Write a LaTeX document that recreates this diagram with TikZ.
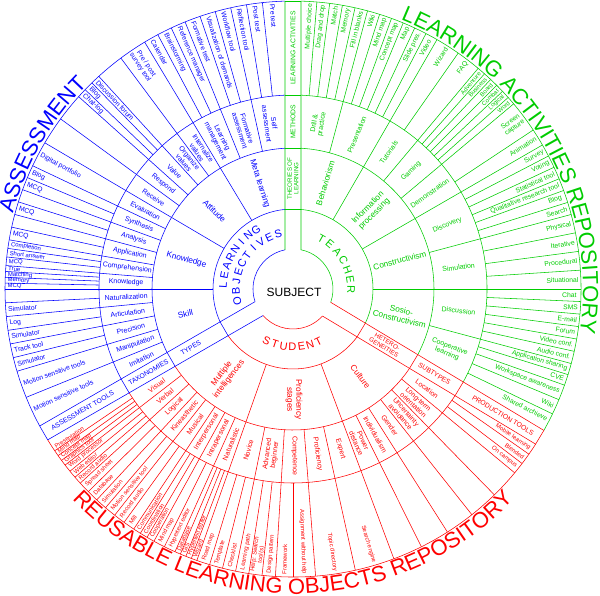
\documentclass[tikz,border=0pt]{standalone}
\usepackage{fontspec}
\setmainfont{Liberation Sans}
\usetikzlibrary{decorations.text}
\definecolor{cb}{RGB}{0,0,255}
\definecolor{cg}{RGB}{0,204,0}
\definecolor{cr}{RGB}{255,0,0}
\newcounter{nd}
\def\RZ{40}\def\RA{80}\def\RB{141}\def\RC{194}\def\RD{288}\def\HW{8}
\def\ROUT{286}\def\RCAT{110.5}\def\RSUB{167}
\newcommand\ctext[4]{%
  \stepcounter{nd}%
  \pgfmathsetmacro\mytc{cos(#2)}%
  \ifdim\mytc pt<-0.0001pt\relax
    \node[#1,rotate={#2+180}] (n\arabic{nd}) at (#2:#3) {#4};%
  \else
    \node[#1,rotate={#2}] (n\arabic{nd}) at (#2:#3) {#4};%
  \fi}
\newcommand\otext[3]{%
  \stepcounter{nd}%
  \pgfmathsetmacro\mytc{cos(#2)}%
  \ifdim\mytc pt<-0.0001pt\relax
    \node[#1,anchor=west,rotate={#2+180}] (n\arabic{nd}) at (#2:\ROUT) {#3};%
  \else
    \node[#1,anchor=east,rotate={#2}] (n\arabic{nd}) at (#2:\ROUT) {#3};%
  \fi}
\newcommand\sarc[4]{\draw[#1] ({#3+asin(\HW/#2)}:#2) arc[start angle={#3+asin(\HW/#2)}, end angle={#4-asin(\HW/#2)}, radius=#2];}
\newcommand\stripband[2]{%
  \draw[#1] ({#2+asin(\HW/\RZ)}:\RZ) -- ({#2+asin(\HW/\RD)}:\RD);
  \draw[#1] ({#2-asin(\HW/\RZ)}:\RZ) -- ({#2-asin(\HW/\RD)}:\RD);
  \foreach \rr in {\RA,\RB,\RC,\RD} \draw[#1] ({#2-asin(\HW/\rr)}:\rr) -- ({#2+asin(\HW/\rr)}:\rr);}
\newcommand\rays[4]{\foreach \ang in {#4} \draw[#1] (\ang:#2) -- (\ang:#3);}
\newcommand\spaced[6]{%
  \foreach \ch [count=\i from 0] in {#6} {%
    \stepcounter{nd}%
    \node[#1,rotate={#3+(\i)*(#4)+(#5)}] (n\arabic{nd}) at ({#3+(\i)*(#4)}:#2) {\ch};}}
\tikzset{
  bl/.style={draw=cb,line width=0.55pt},
  gl/.style={draw=cg,line width=0.55pt},
  rl/.style={draw=cr,line width=0.55pt},
  lab/.style={inner sep=0.3pt,align=center},
  cat/.style={lab,font=\fontsize{8.3}{9}\selectfont},
  sub/.style={lab,font=\fontsize{7}{7.5}\selectfont},
  outer/.style={lab,font=\fontsize{6.8}{7.2}\selectfont},
  thin/.style={lab,font=\fontsize{6}{6.3}\selectfont},
  striplab/.style={lab,font=\fontsize{6.8}{7.2}\selectfont},
  big/.style={font=\fontsize{11}{11}\selectfont,inner sep=0pt}
}
\begin{document}
\begin{tikzpicture}[x=1pt,y=1pt]
\useasboundingbox (-293,-307) rectangle (307,289);
% ---------- arcs ----------
\foreach \r in {\RZ,\RA,\RB,\RC,\RD} {
  \sarc{bl}{\r}{90}{210}
  \sarc{gl}{\r}{-31}{90}
  \sarc{rl}{\r}{210}{329}
}
% ---------- strips ----------
\stripband{gl}{90}
\stripband{bl}{210}
\stripband{rl}{329}
% ---------- blue rays ----------
\rays{bl}{\RA}{\RB}{121,149.5,180}
\rays{bl}{\RB}{\RC}{102.5,112,121,126.7,132.4,138.1,143.8,149.5,154.67,159.83,165,170.17,175.33,180,185.5,191,196.6,202.1}
\rays{bl}{\RC}{\RD}{96.1,99.3,102.5,105.67,108.83,112,115,118,121,126.7,132.4,134.3,136.2,138.1,143.8,149.5,154.67,157.25,159.83,162.4,165,167.6,170.17,171.89,173.61,175.33,176.5,177.67,178.83,180,182.75,185.5,188.25,191,193.8,196.6,202.1}
% ---------- green rays ----------
\rays{gl}{\RA}{\RB}{60,30,0}
\rays{gl}{\RB}{\RC}{75,60,50,40,30,15,0,-15}
\rays{gl}{\RC}{\RD}{85.24,82.68,80.12,77.56,75,72.5,70,67.5,65,62.5,60,55,50,48.33,46.67,45,43.33,41.67,40,33.5,30,27.5,25,22.5,20,17.5,15,11.25,7.5,3.75,0,-2.5,-5,-7.5,-10,-12.5,-15,-17.3,-19.5,-22.6,-25.7}
% ---------- red rays ----------
\rays{rl}{\RA}{\RB}{250.5,290.5}
\rays{rl}{\RB}{\RC}{217.69,222.38,227.06,231.75,236.44,241.13,245.81,250.5,258.5,266.5,274.5,282.5,290.5,296.47,302.43,308.4,314.37,320.33}
\rays{rl}{\RC}{\RD}{214.17,215.35,216.52,217.69,219.25,220.81,222.38,224.72,227.06,229.4,231.75,234.1,236.44,238,239.56,241.13,243.47,245.81,246.98,248.16,249.33,250.5,253.17,255.83,258.5,261.17,263.83,266.5,270,274.5,282.5,290.5,296.47,302.43,308.4,314.37,320.33,322.7,325}
% ---------- centre ----------
\node[font=\fontsize{12}{12}\selectfont,inner sep=0pt] (subj) at (1,-3) {SUBJECT};
\spaced{big,text=cb}{70}{176.6}{-7.8}{-90}{L,E,A,R,N,I,N,G}
\spaced{big,text=cb}{57}{192}{-9.667}{-90}{O,B,J,E,C,T,I,V,E,S}
\spaced{big,text=cg}{58}{60.8}{-10.3}{-90}{T,E,A,C,H,E,R}
\spaced{big,text=cr}{58}{243}{8.83}{90}{S,T,U,D,E,N,T}
% ---------- strip labels ----------
\ctext{striplab,text=cg,font=\fontsize{6.2}{6.7}\selectfont}{90}{\RCAT}{THEORIES OF\\LEARNING}
\ctext{striplab,text=cg}{90}{\RSUB}{METHODS}
\ctext{striplab,text=cg}{90}{241}{LEARNING ACTIVITIES}
\ctext{striplab,text=cb}{210}{118}{TYPES}
\ctext{striplab,text=cb}{210}{167}{TAXONOMIES}
\ctext{striplab,text=cb}{210}{243}{ASSESSMENT TOOLS}
\ctext{striplab,text=cr,font=\fontsize{6.2}{6.7}\selectfont}{329}{108}{HETERO-\\GENEITIES}
\ctext{striplab,text=cr}{329}{165}{SUBTYPES}
\ctext{striplab,text=cr}{329}{245}{PRODUCTION TOOLS}
% ---------- blue texts ----------
\foreach \ang/\txt in {107.5/Meta learning,135.25/Attitude,164.75/Knowledge,193/Skill}
  {\ctext{cat,text=cb}{\ang}{\RCAT}{\txt}}
\foreach \ang/\txt in {97.75/{Self\\assessment},107.25/{Formative\\assessment},116.5/{Learning\\management},123.85/{Internalize\\values},129.55/{Organize\\values},135.25/Value,140.95/Respond,146.65/Receive,152.1/Evaluation,157.25/Synthesis,162.4/Analysis,167.6/Application,172.75/Comprehension,177.7/Knowledge,182.75/Naturalization,188.25/Articulation,193.8/Precision,199.35/Manipulation,204.85/Imitation}
  {\ctext{sub,text=cb}{\ang}{\RSUB}{\txt}}
\foreach \ang/\txt in {94.2/Pre test,97.7/Post test,100.9/Reflection tool,104.1/Workflow tool,107.25/Visualization of demands,110.4/Formative test,113.5/Reference manager,116.5/Brainstorming,119.5/Calendar,123.85/{Pre / post\\survey tool},133.35/Discussion forum,135.25/Blog,137.15/Chat-log,152.1/Digital portfolio,155.96/Blog,158.54/MCQ,163.7/MCQ,168.9/MCQ,184.1/Simulator,186.9/Log,189.6/Simulator,192.4/Track tool,195.2/Simulator,199.35/Motion sensitive tools,204.85/Motion sensitive tools}
  {\otext{outer,text=cb}{\ang}{\txt}}
\foreach \ang/\txt in {171.03/Completion,172.75/Short answer,174.47/MCQ,175.9/True / false,177.08/Matching,178.25/Memory,179.42/MCQ}
  {\otext{thin,text=cb}{\ang}{\txt}}
% ---------- green texts ----------
\foreach \ang/\txt in {73/Behaviorism,45/{Information\\processing},15/Constructivism,-13.4/{Sosio-\\Constructivism}}
  {\ctext{cat,text=cg}{\ang}{\RCAT}{\txt}}
\foreach \ang/\txt in {81.3/{Drill \&\\practice},67.5/Presentation,55/Tutorials,45/Gaming,35/Demonstration,22.5/Discovery,7.5/Simulation,-7.5/Discussion,-21.5/{Cooperative\\learning}}
  {\ctext{sub,text=cg}{\ang}{\RSUB}{\txt}}
\foreach \ang/\txt in {86.5/Multiple choice,83.96/Drag and drop,81.4/Match,78.84/Memory,76.28/Fill in blanks,73.75/Wiki,71.25/Mind map,68.75/Concept map,66.25/Map,63.75/Slide pres.,61.25/Video / audio rec.,57.5/Wizard,52.5/FAQ,36.75/{Screen\\capture},31.75/Animation,28.75/Survey,26.25/Voting,23.75/Statistical tool,21.25/Qualitative research tool,18.75/Blog / journal,16.25/Search,13.125/Physical,9.375/Iterative,5.625/Procedural,1.875/Situational,-1.25/Chat / IM,-3.75/SMS,-6.25/E-mail,-8.75/Forum,-11.25/Video conf.,-13.75/Audio conf.,-16.15/Application sharing,-18.4/CVE,-21.05/Workspace awareness,-24.15/Wiki,-27.1/Shared archieve}
  {\otext{outer,text=cg}{\ang}{\txt}}
\foreach \ang/\txt in {49.17/Adventure,47.5/Business,45.83/Board,44.17/Combat,42.5/Logical,40.83/Word}
  {\otext{thin,text=cg}{\ang}{\txt}}
% ---------- red texts ----------
\foreach \ang/\txt in {232.3/{Multiple\\intelligences},270.5/{Proficiency\\stages},307.6/Culture}
  {\ctext{cat,text=cr}{\ang}{\RCAT}{\txt}}
\foreach \ang/\txt in {215.3/Visual,220/Verbal,224.7/Logical,229.4/Kineasthetic,234.1/Musical,238.8/Interpersonal,243.5/Intrapersonal,248.2/Naturalistic,254.5/Novice,262.5/{Advanced\\beginner},270.5/Competence,278.5/Proficiency,286.5/Expert,293.5/{Power\\distance},299.45/Individualism,305.4/Gender,311.4/{Uncertainty\\avoidance},317.35/{Long-term\\orientation},323.3/Location}
  {\ctext{sub,text=cr}{\ang}{\RSUB}{\txt}}
\foreach \ang/\txt in {213.59/Presentation,214.76/Mind map,215.93/Concept map,217.1/Graphics tool,218.47/Word processor,220.03/Web editor,221.6/Record audio,223.55/Spread sheet,225.89/Database,228.23/Simulation,230.58/Motion sensitive tool,232.92/Record audio,235.27/Mill,237.22/Communication,238.78/Coordination,240.35/Cooperation,242.3/Mind map,244.64/Hypertext editor,246.4/Database,247.57/GIS,248.74/Hypertext editor,249.9/Wizard,251.83/Road map,254.5/Template,257.17/Checklist,259.83/Learning path,262.5/{Help: Search\\tool(s)},265.17/Design pattern,268.25/Framework,272.25/Assignment without help,278.5/Topic directory,286.5/Search engine,321.5/On campus,323.85/Blended,326.1/Mobile learning}
  {\otext{thin,text=cr}{\ang}{\txt}}
% ---------- big curved titles ----------
\path[decorate,decoration={text along path,text color=cb,text align=center,
  text={|\fontsize{22}{22}\selectfont|ASSESSMENT}}]
  (170:290) arc[start angle=170,end angle=130,radius=290];
\path[decorate,decoration={text along path,text color=cg,text align=center,
  text={|\fontsize{22}{22}\selectfont|LEARNING ACTIVITIES REPOSITORY}}]
  (74.8:290) arc[start angle=74.8,end angle=-15.2,radius=290];
\path[decorate,decoration={text along path,text color=cr,text align=center,
  text={|\fontsize{22}{22}\selectfont|REUSABLE LEARNING OBJECTS REPOSITORY}}]
  (220:305) arc[start angle=220,end angle=320,radius=305];
\end{tikzpicture}
\end{document}
